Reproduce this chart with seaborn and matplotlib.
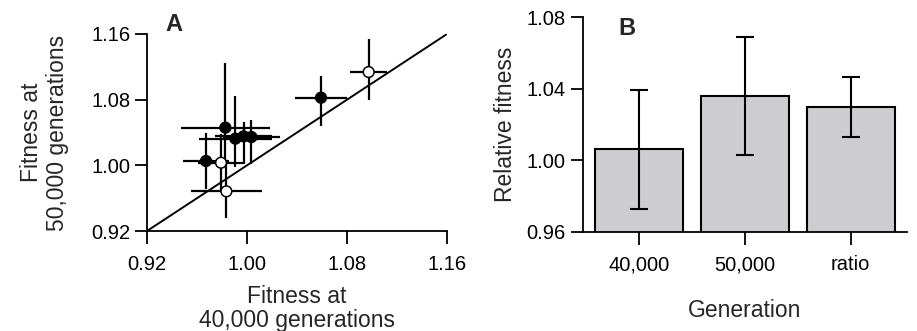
import matplotlib
matplotlib.use("Agg")
import matplotlib.pyplot as plt
import seaborn as sns
import pandas as pd
import numpy as np

OUTPUT_FILE = "out.png"

sns.set_theme(style="ticks")
plt.rcParams["font.family"] = ["Liberation Sans", "DejaVu Sans"]

# Panel A: fitness of each clone at 40,000 vs 50,000 generations
fit_40k = [1.0973, 1.0592, 0.9827, 0.9907, 0.9973, 1.0035, 0.9672, 0.9792, 0.9835]
fit_50k = [1.1137, 1.0824, 1.0459, 1.0325, 1.0353, 1.0345, 1.0053, 1.0032, 0.9683]
err_40k = [0.0147, 0.0210, 0.0357, 0.0290, 0.0230, 0.0227, 0.0187, 0.0187, 0.0287]
err_50k_lo = [0.0345, 0.0340, 0.0450, 0.0345, 0.0333, 0.0325, 0.0337, 0.0340, 0.0330]
err_50k_hi = [0.0406, 0.0270, 0.0790, 0.0515, 0.0175, 0.0203, 0.0341, 0.0350, 0.0340]
is_open = [True, False, False, False, False, False, False, True, True]

# Panel B: mean relative fitness
generations = ["40,000", "50,000", "ratio"]
rel_fitness = [1.0061, 1.0361, 1.0300]
rel_err = [0.0332, 0.0331, 0.0168]

df_a = pd.DataFrame({
    "x": fit_40k, "y": fit_50k,
    "kind": ["open" if o else "filled" for o in is_open],
})
df_b = pd.DataFrame({"Generation": generations, "fitness": rel_fitness})

fig = plt.figure(figsize=(9.17, 3.31), dpi=100)
ax1 = fig.add_axes([0.1603, 0.3021, 0.3272, 0.5952])
ax2 = fig.add_axes([0.6354, 0.3000, 0.3534, 0.6477])

tick_fs = 14.5
label_fs = 16.5

# --- Panel A ---
ax1.plot([0.92, 1.16], [0.92, 1.16], color="black", lw=1.4, zorder=1)
ax1.errorbar(
    df_a["x"], df_a["y"],
    xerr=err_40k, yerr=[err_50k_lo, err_50k_hi],
    fmt="none", ecolor="black", elinewidth=1.6, capsize=0, zorder=2
)
sns.scatterplot(
    data=df_a, x="x", y="y", hue="kind",
    palette={"filled": "black", "open": "white"},
    edgecolor="black", linewidth=1.1, s=60, legend=False, zorder=3, ax=ax1
)
ax1.set_xlim(0.92, 1.16)
ax1.set_ylim(0.92, 1.16)
ticks_a = [0.92, 1.00, 1.08, 1.16]
ax1.set_xticks(ticks_a)
ax1.set_yticks(ticks_a)
ax1.set_xticklabels([f"{t:.2f}" for t in ticks_a])
ax1.set_yticklabels([f"{t:.2f}" for t in ticks_a])
ax1.set_xlabel("Fitness at\n40,000 generations", fontsize=label_fs, labelpad=8, linespacing=1.05)
ax1.set_ylabel("Fitness at\n50,000 generations", fontsize=label_fs, labelpad=16, linespacing=1.15)
ax1.text(0.06, 1.107, "A", transform=ax1.transAxes, fontsize=17, fontweight="bold",
         va="top", ha="left")

# --- Panel B ---
sns.barplot(
    data=df_b, x="Generation", y="fitness",
    color="#cdcdd0", edgecolor="black", linewidth=1.5,
    width=0.83, errorbar=None, ax=ax2
)
ax2.errorbar(
    np.arange(len(generations)), rel_fitness, yerr=rel_err,
    fmt="none", ecolor="black", elinewidth=1.5, capsize=6.5, capthick=1.5
)
ax2.set_xlim(-0.535, 2.53)
ax2.set_ylim(0.96, 1.08)
ticks_b = [0.96, 1.00, 1.04, 1.08]
ax2.set_yticks(ticks_b)
ax2.set_yticklabels([f"{t:.2f}" for t in ticks_b])
ax2.set_ylabel("Relative fitness", fontsize=label_fs, labelpad=7)
ax2.set_xlabel("Generation", fontsize=label_fs, labelpad=18)
ax2.text(0.11, 1.0, "B", transform=ax2.transAxes, fontsize=17, fontweight="bold",
         va="top", ha="left")

for ax in (ax1, ax2):
    sns.despine(ax=ax)
    for side in ("left", "bottom"):
        ax.spines[side].set_linewidth(1.3)
        ax.spines[side].set_color("black")
    ax.tick_params(axis="both", labelsize=tick_fs, length=9, width=1.3,
                   color="black", labelcolor="black")
    ax.tick_params(axis="x", pad=8)
    ax.tick_params(axis="y", pad=3)
    ax.patch.set_alpha(0)

fig.savefig(OUTPUT_FILE, dpi=100)
plt.close(fig)
